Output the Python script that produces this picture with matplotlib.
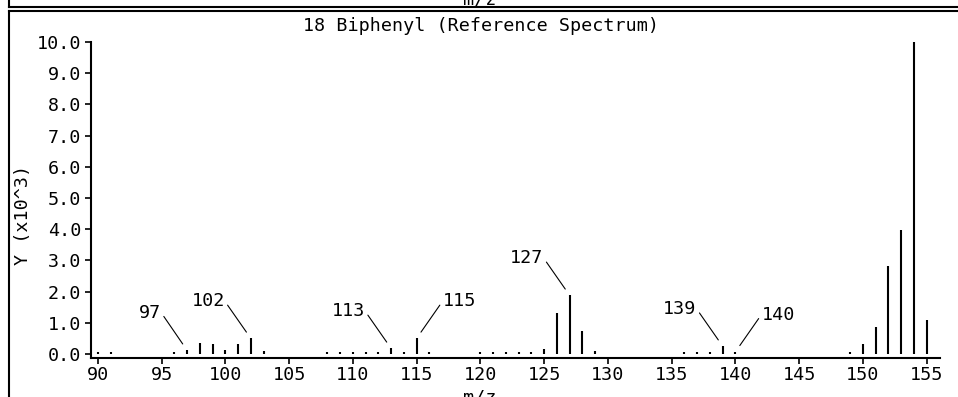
import matplotlib
matplotlib.use("Agg")
import matplotlib.pyplot as plt
from matplotlib.lines import Line2D

# Biphenyl reference mass spectrum (intensity in units of 1000)
mz = [90, 91, 96, 97, 98, 99, 100, 101, 102, 103,
      108, 109, 110, 111, 112, 113, 114, 115, 116,
      120, 121, 122, 123, 124, 125, 126, 127, 128, 129,
      136, 137, 138, 139, 140,
      149, 150, 151, 152, 153, 154, 155]
intensity = [0.06, 0.05, 0.06, 0.12, 0.35, 0.33, 0.12, 0.33, 0.50, 0.09,
             0.06, 0.06, 0.07, 0.06, 0.07, 0.18, 0.08, 0.50, 0.08,
             0.05, 0.05, 0.07, 0.07, 0.06, 0.17, 1.30, 1.88, 0.73, 0.10,
             0.06, 0.06, 0.06, 0.25, 0.07,
             0.06, 0.31, 0.87, 2.82, 3.98, 10.0, 1.10]

labels_left = [97, 102, 113, 127, 139]
labels_right = [115, 140]

yticks = [0, 1, 2, 3, 4, 5, 6, 7, 8, 9, 10]
xticks = [90, 95, 100, 105, 110, 115, 120, 125, 130, 135, 140, 145, 150, 155]

W, H = 958, 397
font = "DejaVu Sans Mono"
fs = 13.2

fig = plt.figure(figsize=(W / 100, H / 100), dpi=100)
ax = fig.add_axes([91 / W, 39 / H, (940 - 91) / W, (358 - 42) / H])

ax.vlines(mz, 0, intensity, colors="black", linewidth=1.5, capstyle="butt")

ax.set_xlim(89.47, 156.04)
ax.set_ylim(-0.128, 10.0)

ax.set_xticks(xticks)
ax.set_xticklabels([str(t) for t in xticks], fontfamily=font, fontsize=fs)
ax.set_yticks(yticks)
ax.set_yticklabels([f"{t:.1f}" for t in yticks], fontfamily=font, fontsize=fs)
ax.tick_params(axis="x", direction="out", length=4, width=1.2, pad=2)
ax.tick_params(axis="y", direction="out", length=4, width=1.2, pad=3)

for s in ["top", "right"]:
    ax.spines[s].set_visible(False)
for s in ["left", "bottom"]:
    ax.spines[s].set_linewidth(1.5)

# peak labels with leader lines
peak = dict(zip(mz, intensity))
for m in labels_left:
    ax.annotate(str(m), xy=(m, peak[m]), xytext=(-26, 37), textcoords="offset pixels",
                ha="right", va="center", fontfamily=font, fontsize=fs,
                arrowprops=dict(arrowstyle="-", lw=0.8, color="black",
                                shrinkA=0, shrinkB=5.5, relpos=(0.96, 0.62)))
for m in labels_right:
    ax.annotate(str(m), xy=(m, peak[m]), xytext=(26, 37), textcoords="offset pixels",
                ha="left", va="center", fontfamily=font, fontsize=fs,
                arrowprops=dict(arrowstyle="-", lw=0.8, color="black",
                                shrinkA=0, shrinkB=5.5, relpos=(0.04, 0.62)))

fig.text(481 / W, 1 - 26 / H, "18 Biphenyl (Reference Spectrum)",
         ha="center", va="center", fontfamily=font, fontsize=fs)
fig.text(23 / W, 1 - 215 / H, "Y (x10^3)", rotation=90,
         ha="center", va="center", fontfamily=font, fontsize=fs)
fig.text(480 / W, 1 - 388 / H, "m/z", ha="center", va="top",
         fontfamily=font, fontsize=fs)
fig.text(480 / W, 1 - 5 / H, "m/z", ha="center", va="baseline",
         fontfamily=font, fontsize=fs)

# panel frame lines
def px_line(x0, y0, x1, y1):
    fig.add_artist(Line2D([x0 / W, x1 / W], [1 - y0 / H, 1 - y1 / H],
                          color="black", linewidth=1.5, transform=fig.transFigure))

px_line(9, 0, 9, 7)
px_line(9, 7, W, 7)
px_line(9, 11, W, 11)
px_line(9, 11, 9, H)

fig.savefig("out.png", dpi=100)
